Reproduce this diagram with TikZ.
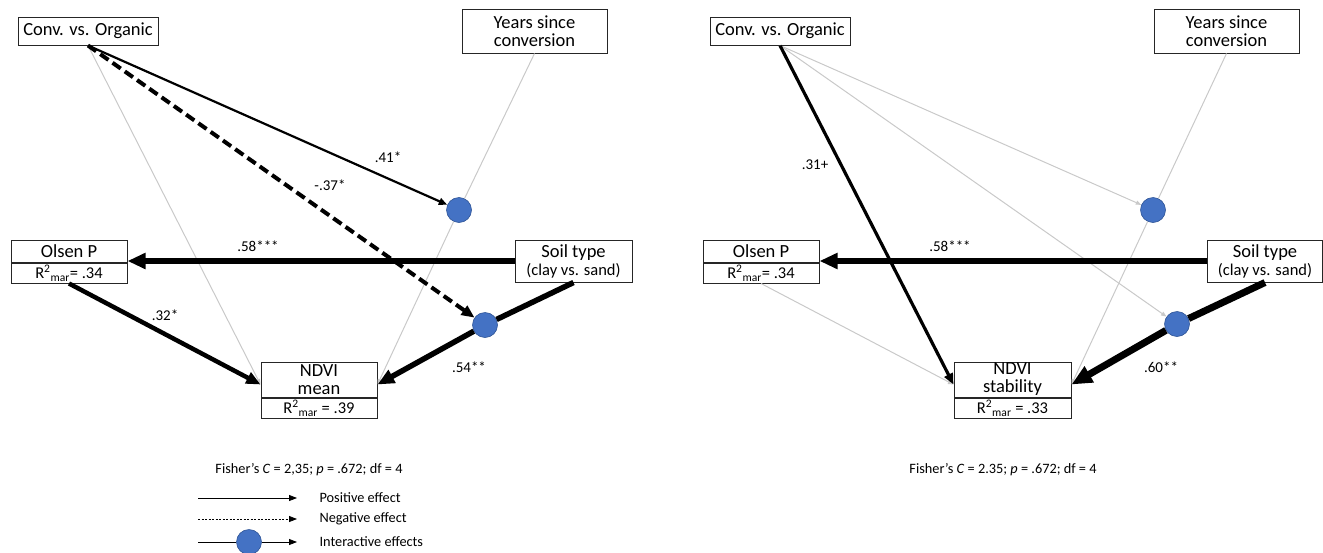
\documentclass[tikz,border=0pt]{standalone}
\usepackage{fontspec}
\setmainfont{Carlito}
\usetikzlibrary{arrows.meta}
\definecolor{interblue}{HTML}{4472C4}
\definecolor{interedge}{HTML}{2F5597}
\definecolor{weak}{HTML}{C9C9C9}

\begin{document}
\begin{tikzpicture}[x=1pt,y=-1pt]
\tikzstyle{var}=[draw=black!85,line width=1pt,inner sep=0pt,align=center,font=\fontsize{18.5}{18}\selectfont];
\tikzstyle{sub}=[draw=black!85,line width=1pt,inner sep=0pt,minimum height=20pt,font=\fontsize{16.5}{17}\selectfont];
\tikzstyle{inter}=[circle,fill=interblue,draw=interedge,line width=0.6pt,minimum size=25pt,inner sep=0pt];
\tikzstyle{eff}=[-{Triangle[length=3pt 2.5,width=2pt 2.2]}];
\tikzstyle{weakeff}=[eff,draw=weak,line width=1pt];
\tikzstyle{legeff}=[-{Triangle[length=8pt,width=6pt]},line width=0.8pt];
\tikzstyle{coef}=[font=\fontsize{15}{15}\selectfont];
\tikzstyle{note}=[font=\fontsize{14.3}{15}\selectfont];
\useasboundingbox (0,0) rectangle (1323,552);

% left panel: NDVI mean
\node [var,minimum width=140pt,minimum height=28pt] (conv) at (88,31) {Conv. vs. Organic};
\node [var,minimum width=145pt,minimum height=44pt] (years) at (534.5,31) {Years since\\conversion};
\node [var,minimum width=116pt,minimum height=22pt] (olsen) at (69,251) {Olsen P};
\node [sub,minimum width=116pt,anchor=north] (olsenR) at (olsen.south) {R\textsuperscript{2}\textsubscript{mar}= .34};
\node [var,minimum width=117pt,minimum height=42pt] (soil) at (573.5,261) {Soil type\\{\fontsize{16.5}{17}\selectfont (clay vs. sand)}};
\node [var,minimum width=116pt,minimum height=35pt] (ndvi) at (319,379.5) {NDVI\\mean};
\node [sub,minimum width=116pt,anchor=north] (ndviR) at (ndvi.south) {R\textsuperscript{2}\textsubscript{mar} = .39};
\coordinate (ndviL) at ([yshift=-5pt]ndvi.west);
\coordinate (ndviRt) at ([yshift=-5pt]ndvi.east);
\node [inter] (i1) at (459,210) {};
\node [inter] (i2) at (485,325) {};

\draw [weakeff] (conv.south) -- (ndviL);
\draw [weak,line width=1pt] (years.south) -- (i1);
\draw [weakeff] (i1) -- (ndviRt);
\draw [eff,line width=2.2pt] (conv.south) -- (i1);
\draw [eff,line width=4pt,dash pattern=on 10pt off 5pt] (conv.south) -- (i2);
\draw [eff,line width=6pt] (soil.west) -- (soil.west -| olsen.east);
\draw [eff,line width=4.5pt] (olsenR.south) -- (ndviL);
\draw [line width=5.5pt] (soil.south) -- (i2);
\draw [eff,line width=5.5pt] (i2) -- (ndviRt);

\node [coef] (c41) at (388,157) {.41*};
\node [coef] (c37) at (330,185) {-.37*};
\node [coef] (c58) at (258,246) {.58***};
\node [coef] (c32) at (165,315) {.32*};
\node [coef] (c54) at (469,367) {.54**};
\node [note] (fisher) at (309,470) {Fisher’s \textit{C} = 2,35; \textit{p} = .672; df = 4};

% legend
\coordinate (pos1) at (198,498);
\coordinate (pos2) at (297,498);
\coordinate (neg1) at (198,519);
\coordinate (neg2) at (297,519);
\coordinate (int1) at (198,542);
\coordinate (int2) at (297,542);
\node [inter] (i3) at (249,542) {};
\draw [legeff] (pos1) -- (pos2);
\draw [legeff,dash pattern=on 2pt off 1.5pt] (neg1) -- (neg2);
\draw [line width=0.8pt] (int1) -- (i3);
\draw [legeff] (i3) -- (int2);
\node [note,anchor=west] (postxt) at (316,498) {Positive effect};
\node [note,anchor=west] (negtxt) at (316,519) {Negative effect};
\node [note,anchor=west] (inttxt) at (316,542) {Interactive effects};

% right panel: NDVI stability
\begin{scope}[xshift=692pt]
\node [var,minimum width=140pt,minimum height=28pt] (convB) at (88,31) {Conv. vs. Organic};
\node [var,minimum width=145pt,minimum height=44pt] (yearsB) at (534.5,31) {Years since\\conversion};
\node [var,minimum width=116pt,minimum height=22pt] (olsenB) at (69,251) {Olsen P};
\node [sub,minimum width=116pt,anchor=north] (olsenRB) at (olsenB.south) {R\textsuperscript{2}\textsubscript{mar}= .34};
\node [var,minimum width=115pt,minimum height=42pt] (soilB) at (573,261) {Soil type\\{\fontsize{16.5}{17}\selectfont (clay vs. sand)}};
\node [var,minimum width=117pt,minimum height=35pt] (ndviB) at (320.5,379.5) {NDVI\\stability};
\node [sub,minimum width=117pt,anchor=north] (ndviRB) at (ndviB.south) {R\textsuperscript{2}\textsubscript{mar} = .33};
\coordinate (ndviLB) at ([yshift=-5pt]ndviB.west);
\coordinate (ndviRtB) at ([yshift=-5pt]ndviB.east);
\node [inter] (i1B) at (461,210) {};
\node [inter] (i2B) at (485,324) {};

\draw [weakeff] (convB.south) -- (i1B);
\draw [weakeff] (convB.south) -- (i2B);
\draw [weak,line width=1pt] (yearsB.south) -- (i1B);
\draw [weakeff] (i1B) -- (ndviRtB);
\draw [weakeff] (olsenRB.south) -- (ndviLB);
\draw [eff,line width=3.2pt] (convB.south) -- (ndviLB);
\draw [eff,line width=6pt] (soilB.west) -- (soilB.west -| olsenB.east);
\draw [line width=7pt] (soilB.south) -- (i2B);
\draw [eff,line width=7pt] (i2B) -- (ndviRtB);

\node [coef] (c31B) at (123,165) {.31+};
\node [coef] (c58B) at (258,246) {.58***};
\node [coef] (c60B) at (469,367) {.60**};
\node [note] (fisherB) at (311,470) {Fisher’s \textit{C} = 2.35; \textit{p} = .672; df = 4};
\end{scope}
\end{tikzpicture}
\end{document}
